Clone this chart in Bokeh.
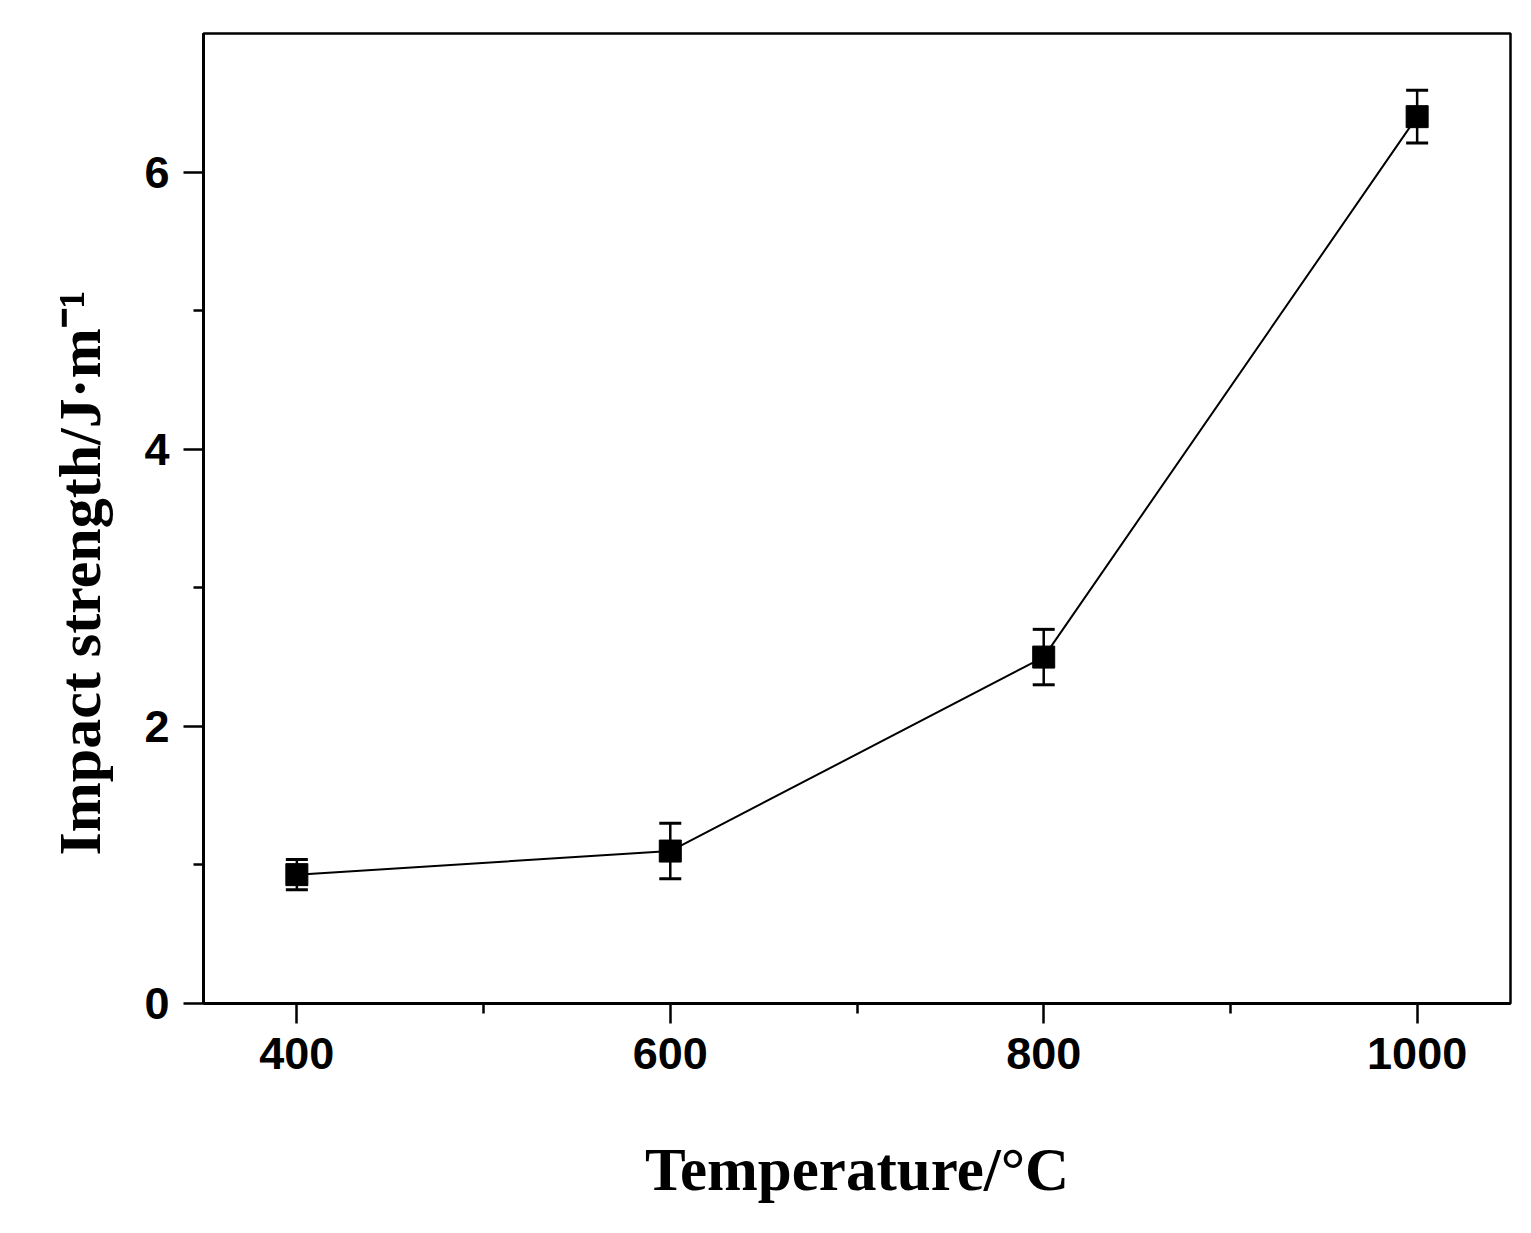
from bokeh.plotting import figure
from bokeh.models import ColumnDataSource, Whisker, TeeHead, FixedTicker, Range1d, Title
from bokeh.embed import file_html
from bokeh.resources import INLINE

# ---- data ----
temperature = [400, 600, 800, 1000]
impact = [0.93, 1.10, 2.50, 6.40]
error = [0.11, 0.20, 0.20, 0.19]

x_ticks = [400, 600, 800, 1000]
x_minor = [500, 700, 900]
y_ticks = [0, 2, 4, 6]
y_minor = [1, 3, 5]

x_title = "Temperature/°C"
y_title = "Impact strength/J·m⁻¹"

X0, X1, Y0, Y1 = 350, 1050, 0, 7
FRAME_W, FRAME_H = 1307, 970
BL, BT = 203, 33

src = ColumnDataSource(dict(
    x=temperature, y=impact,
    lower=[v - e for v, e in zip(impact, error)],
    upper=[v + e for v, e in zip(impact, error)],
))

W, H = 1525, 1230
p = figure(width=W, height=H, output_backend="svg", toolbar_location=None,
           x_range=Range1d(X0, X1), y_range=Range1d(Y0, Y1),
           min_border_left=BL, min_border_right=W - BL - FRAME_W,
           min_border_top=BT, min_border_bottom=H - BT - FRAME_H)
p.background_fill_color = "white"
p.border_fill_color = "white"
p.grid.visible = False
p.outline_line_color = "black"
p.outline_line_width = 2.5

for ax, ticks, minor in ((p.xaxis[0], x_ticks, x_minor), (p.yaxis[0], y_ticks, y_minor)):
    ax.ticker = FixedTicker(ticks=ticks, minor_ticks=minor)
    ax.axis_line_width = 3
    ax.axis_line_color = "black"
    ax.major_tick_line_width = 2.5
    ax.minor_tick_line_width = 2.5
    ax.major_tick_in = 0
    ax.major_tick_out = 20
    ax.minor_tick_in = 0
    ax.minor_tick_out = 10
    ax.major_label_text_font = "Liberation Sans"
    ax.major_label_text_font_style = "bold"
    ax.major_label_text_font_size = "45px"
    ax.major_label_text_color = "black"
    ax.major_label_standoff = 14

# x title: centred under the frame, as in the reference
xa = p.xaxis[0]
xa.axis_label = x_title
xa.axis_label_text_font = "Liberation Serif"
xa.axis_label_text_font_style = "bold"
xa.axis_label_text_font_size = "61px"
xa.axis_label_text_color = "black"
xa.axis_label_standoff = 64

p.line("x", "y", source=src, line_color="black", line_width=2)
w = Whisker(source=src, base="x", lower="lower", upper="upper",
            line_color="black", line_width=2.5,
            lower_head=TeeHead(size=22, line_width=3, line_color="black"),
            upper_head=TeeHead(size=22, line_width=3, line_color="black"))
p.add_layout(w)
p.scatter("x", "y", source=src, marker="square", size=22, fill_color="black", line_color="black")

# y title: shifted towards the bottom like the reference, so a Title in the left panel
yt = Title(text=y_title, align="left", offset=148, standoff=57,
           text_font="Liberation Serif", text_font_style="bold", text_font_size="60px",
           text_color="black")
p.add_layout(yt, "left")

open("out.html", "w").write(file_html(p, INLINE))
